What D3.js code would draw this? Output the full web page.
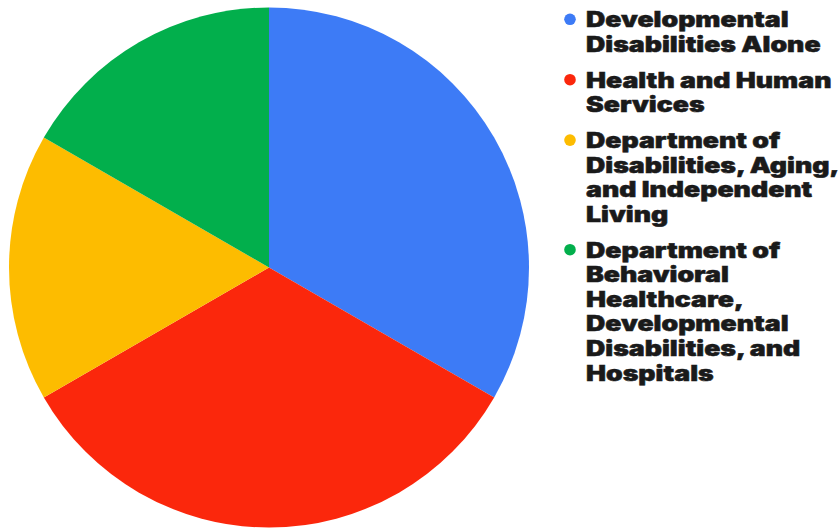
<!DOCTYPE html>
<html>
<head>
<meta charset="utf-8">
<script src="https://cdn.jsdelivr.net/npm/d3@7"></script>
<style>
  html, body { margin: 0; padding: 0; background: #ffffff; }
  svg { display: block; }
</style>
</head>
<body>
<svg id="chart" width="840" height="528"></svg>
<script>
// Agency categories and their shares
const categories = [
  "Developmental Disabilities Alone",
  "Health and Human Services",
  "Department of Disabilities, Aging, and Independent Living",
  "Department of Behavioral Healthcare, Developmental Disabilities, and Hospitals"
];
const values = [2, 2, 1, 1];
const colors = ["#3d7bf6", "#fb270c", "#fdbc00", "#02af4c"];

const svg = d3.select("#chart");

// Pie geometry
const cx = 269, cy = 267.5, radius = 260;

const pie = d3.pie().sort(null).value(d => d.value);
const arc = d3.arc().innerRadius(0).outerRadius(radius);
const color = d3.scaleOrdinal().domain(categories).range(colors);

const data = categories.map((c, i) => ({ name: c, value: values[i] }));

svg.append("g")
  .attr("transform", `translate(${cx},${cy})`)
  .selectAll("path")
  .data(pie(data))
  .join("path")
  .attr("d", arc)
  .attr("fill", d => color(d.data.name));

// Legend: heavy, wide lettering (horizontally stretched black weight)
const legendX = 586, firstBaseline = 27.3, lineH = 24.6, groupGap = 11.2, maxW = 254;
const fontSize = 21, hScale = 1.27;
const legend = svg.append("g")
  .attr("font-family", "Inter, 'DejaVu Sans', sans-serif")
  .attr("font-weight", 900)
  .attr("font-size", fontSize)
  .attr("fill", "#1a1a1a")
  .attr("stroke", "#1a1a1a")
  .attr("stroke-width", 0.5);

// measure helper for word wrapping
const probe = legend.append("text").attr("visibility", "hidden");
function measure(s) { probe.text(s); return probe.node().getComputedTextLength() * hScale; }
function wrap(label) {
  const words = label.split(" ");
  const lines = [];
  let cur = "";
  words.forEach(w => {
    const t = cur ? cur + " " + w : w;
    if (cur && measure(t) > maxW) { lines.push(cur); cur = w; }
    else cur = t;
  });
  if (cur) lines.push(cur);
  return lines;
}

let y = firstBaseline;
categories.forEach((c, i) => {
  const lines = wrap(c);
  legend.append("circle")
    .attr("cx", 570).attr("cy", y - 8)
    .attr("r", 5.8)
    .attr("stroke", "none")
    .attr("fill", color(c));
  const t = legend.append("text")
    .attr("transform", `translate(${legendX},0) scale(${hScale},1)`);
  lines.forEach((ln, j) => {
    t.append("tspan").attr("x", 0).attr("y", y + j * lineH).text(ln);
  });
  y += lines.length * lineH + groupGap;
});
probe.remove();
</script>
</body>
</html>
